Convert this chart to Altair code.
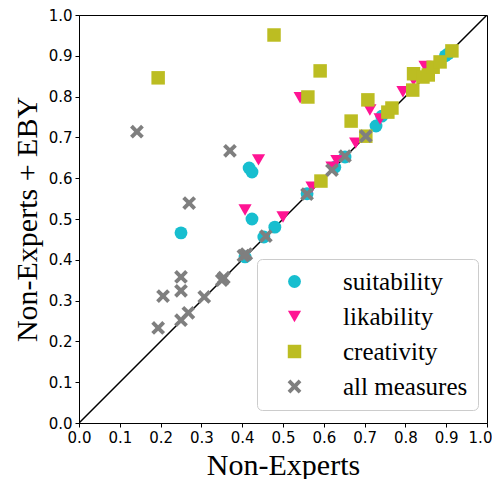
import altair as alt
import pandas as pd

series_names = ["suitability", "likability", "creativity", "all measures"]
series_colors = ["#17becf", "#ff1493", "#bcbd22", "#7f7f7f"]

suit_x = [0.25, 0.417, 0.424, 0.424, 0.407, 0.453, 0.48, 0.559, 0.627, 0.652, 0.728, 0.742, 0.898, 0.905]
suit_y = [0.466, 0.625, 0.615, 0.50, 0.407, 0.456, 0.48, 0.562, 0.627, 0.652, 0.728, 0.752, 0.90, 0.905]

like_x = [0.407, 0.44, 0.5, 0.542, 0.571, 0.62, 0.632, 0.678, 0.713, 0.738, 0.794, 0.82, 0.848]
like_y = [0.522, 0.645, 0.505, 0.797, 0.578, 0.627, 0.643, 0.686, 0.767, 0.745, 0.812, 0.84, 0.874]

crea_x = [0.194, 0.478, 0.561, 0.591, 0.593, 0.667, 0.703, 0.708, 0.757, 0.767, 0.818, 0.82, 0.843, 0.856, 0.868, 0.885, 0.914]
crea_y = [0.846, 0.951, 0.799, 0.863, 0.593, 0.74, 0.703, 0.792, 0.762, 0.772, 0.816, 0.856, 0.848, 0.853, 0.872, 0.885, 0.912]

all_x = [0.142, 0.37, 0.27, 0.25, 0.25, 0.206, 0.194, 0.25, 0.268, 0.307, 0.35, 0.355, 0.403, 0.41, 0.458, 0.559, 0.62, 0.652, 0.703]
all_y = [0.714, 0.667, 0.539, 0.358, 0.324, 0.311, 0.233, 0.252, 0.27, 0.309, 0.35, 0.356, 0.41, 0.414, 0.458, 0.561, 0.62, 0.654, 0.703]

diag_x = [0.0, 1.0]
diag_y = [0.0, 1.0]

tick_values = [0.0, 0.1, 0.2, 0.3, 0.4, 0.5, 0.6, 0.7, 0.8, 0.9, 1.0]

rows = []
for name, xs, ys in [("suitability", suit_x, suit_y), ("likability", like_x, like_y),
                     ("creativity", crea_x, crea_y), ("all measures", all_x, all_y)]:
    for a, b in zip(xs, ys):
        rows.append({"x": a, "y": b, "series": name})
df = pd.DataFrame(rows)
diag = pd.DataFrame({"x": diag_x, "y": diag_y})

x_path = "M-1,-0.6L-0.6,-1L0,-0.4L0.6,-1L1,-0.6L0.4,0L1,0.6L0.6,1L0,0.4L-0.6,1L-1,0.6L-0.4,0Z"
shapes = ["circle", "triangle-down", "square", x_path]

xscale = alt.Scale(domain=[0, 1], nice=False, zero=False)
yscale = alt.Scale(domain=[0, 1], nice=False, zero=False)

xaxis = alt.Axis(values=tick_values, format=".1f", title="Non-Experts", grid=False, labelFlush=False,
                 labelOffset={"condition": {"test": "datum.value >= 0.99", "value": -7}, "value": 0})
yaxis = alt.Axis(values=tick_values, format=".1f", title="Non-Experts + EBY", grid=False, labelFlush=False)

line = alt.Chart(diag).mark_line(color="black", strokeWidth=1.5, clip=True).encode(
    x=alt.X("x:Q", scale=xscale, axis=xaxis),
    y=alt.Y("y:Q", scale=yscale, axis=yaxis),
)

points = alt.Chart(df).mark_point(filled=True, opacity=1, strokeWidth=0).encode(
    x=alt.X("x:Q", scale=xscale, axis=xaxis),
    y=alt.Y("y:Q", scale=yscale, axis=yaxis),
    color=alt.Color("series:N", scale=alt.Scale(domain=series_names, range=series_colors),
                    legend=alt.Legend(title=None)),
    shape=alt.Shape("series:N", scale=alt.Scale(domain=series_names, range=shapes),
                    legend=alt.Legend(title=None)),
    size=alt.Size("series:N", scale=alt.Scale(domain=series_names, range=[165, 190, 196, 175]),
                  legend=None),
)

chart = alt.layer(line, points).properties(
    width=408, height=408,
    autosize=alt.AutoSizeParams(type="none"),
    padding={"left": 71, "top": 7, "right": 5, "bottom": 56},
).configure_view(
    stroke="black", strokeWidth=1
).configure_axis(
    domainColor="black", tickColor="black", tickSize=4, tickWidth=1,
    labelFont="DejaVu Sans", labelFontSize=15, labelColor="black", labelPadding=3,
    titleFont="Liberation Serif", titleFontSize=30, titleFontWeight="normal", titleColor="black",
).configure_axisX(
    titlePadding=5
).configure_axisY(
    titlePadding=6
).configure_legend(
    orient="none", legendX=178, legendY=244,
    strokeColor="#cccccc", strokeWidth=1, cornerRadius=5, fillColor="white",
    padding=10, labelFont="Liberation Serif", labelFontSize=25, labelColor="black",
    symbolSize=165, rowPadding=9, symbolOffset=15, labelOffset=36, symbolStrokeWidth=0,
)

chart.save("out.html", embed_options={"renderer": "svg", "actions": False})
